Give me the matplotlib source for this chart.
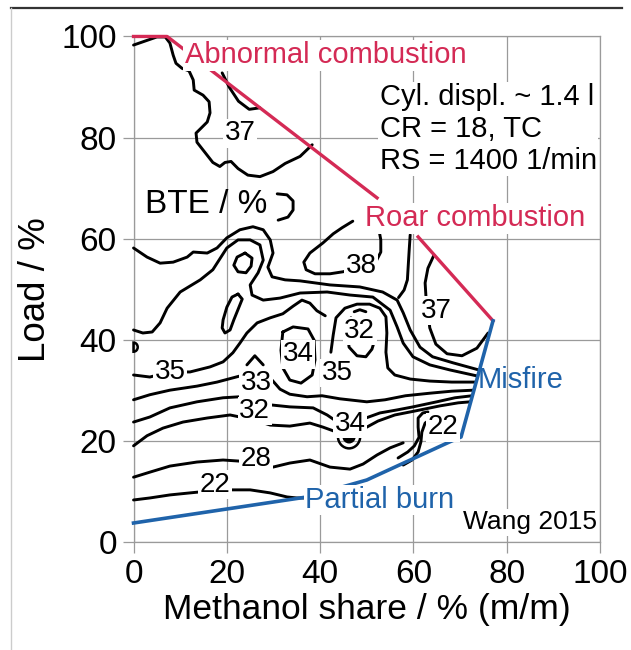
#plot of brake thermal efficiency map over methanol share and load
import matplotlib
matplotlib.use("Agg")
import matplotlib.pyplot as plt
from matplotlib.patches import Wedge
from matplotlib.lines import Line2D

plt.rcParams['font.family'] = ['Liberation Sans', 'DejaVu Sans']

ticks = [0, 20, 40, 60, 80, 100]

# operating limits
abnormal_x = [0, 7.2, 52.2]
abnormal_y = [100, 100, 68.1]
roar_x = [61.0, 77.05]
roar_y = [60.4, 43.8]
limit_x = [0, 37.2, 50.0, 67.8, 70.2, 77.05]
limit_y = [3.85, 9.0, 12.35, 19.9, 20.85, 43.8]

# BTE iso lines (methanol share %, load %)
c37_top_x = [0, 2.5, 5.0, 6.8, 7.8, 8.5, 9.1, 10.4, 11.9, 12.8, 13.0, 14.9, 16.2, 16.4, 15.8,
             14.5, 13.4, 13.6, 15.3, 17.0, 18.5, 19.6, 20.9, 22.4, 24.5, 27.1, 29.9, 32.5, 35.7, 38.3]
c37_top_y = [98.3, 99.1, 99.9, 99.9, 98.7, 96.3, 94.7, 93.7, 93.2, 91.4, 89.4, 88.4, 87.1, 84.9, 83.1,
             81.9, 80.9, 79.1, 77.1, 75.1, 74.3, 75.1, 75.3, 73.9, 72.6, 72.3, 73.3, 74.9, 76.3, 78.6]
c37_lens_x = [19.0, 20.5, 22.5, 24.8, 27.1]
c37_lens_y = [92.8, 90.0, 87.2, 85.6, 85.9]
hook_x = [30.8, 32.9, 34.2, 34.2, 33.1, 31.0]
hook_y = [68.9, 68.7, 67.5, 65.7, 64.3, 63.7]

upper_x = [0, 2.9, 5.7, 8.5, 11.5, 12.8, 15.8, 17.9, 20.0, 22.8, 25.6, 27.8, 29.3, 29.9, 28.8, 29.7,
           32.5, 35.7, 42.1, 48.5, 53.4, 56.5, 57.8, 59.3, 61.4, 64.1, 68.5, 74.0]
upper_y = [58.2, 56.4, 55.2, 55.4, 56.4, 57.4, 57.2, 58.2, 60.2, 61.8, 62.4, 61.8, 59.8, 57.2, 54.4, 52.5,
           51.9, 51.7, 50.9, 50.5, 49.5, 47.9, 45.4, 42.0, 38.6, 36.7, 35.5, 34.1]
second_x = [0, 2.0, 4.0, 5.7, 7.2, 10.0, 14.3, 17.0, 20.0, 22.4, 25.0, 27.1, 27.8, 26.7, 25.0, 25.4,
            27.8, 31.4, 35.7, 41.5, 46.4, 51.3, 55.0, 56.5, 57.8, 59.9, 63.5, 67.8, 73.7]
second_y = [42.0, 41.4, 41.6, 43.4, 46.3, 49.5, 51.9, 53.9, 58.2, 59.8, 59.8, 58.8, 55.8, 53.3, 50.9, 48.9,
            47.9, 48.3, 49.3, 49.5, 48.9, 48.5, 45.9, 42.6, 39.4, 36.7, 35.1, 34.1, 32.9]
drop_x = [59.3, 59.1, 58.9, 58.7, 58.0, 56.8]
drop_y = [60.8, 58.0, 55.0, 51.9, 49.9, 48.4]
arch_x = [42.3, 42.8, 43.4, 45.3, 47.9, 50.6, 52.8, 54.1, 54.3, 54.1, 54.5, 56.0, 59.3, 63.5, 68.2, 73.3]
arch_y = [37.6, 41.0, 44.4, 46.3, 47.1, 47.1, 46.3, 44.6, 41.4, 37.6, 34.5, 33.1, 32.3, 31.9, 31.7, 31.7]
c38_x = [47.0, 44.7, 42.8, 40.6, 37.8, 36.5, 37.0, 38.9, 42.1, 44.9, 48.5, 51.9, 53.0, 53.0, 52.6]
c38_y = [63.5, 62.2, 61.0, 59.2, 57.2, 55.4, 53.9, 53.1, 53.1, 53.5, 54.3, 55.4, 57.4, 59.8, 61.8]
c37_right_x = [64.4, 63.1, 62.5, 62.7, 63.1, 63.5, 64.8, 67.2, 70.4, 73.6, 76.0]
c37_right_y = [56.8, 54.2, 51.3, 48.3, 45.6, 42.4, 39.2, 37.3, 36.9, 38.4, 41.4]
c35_x = [0, 3.5, 7.8, 12.1, 16.4, 19.2, 21.3, 22.8, 24.3, 26.5, 29.3, 32.0, 34.2, 36.1, 37.8, 39.3, 41.1]
c35_y = [33.1, 32.7, 33.7, 33.7, 34.7, 35.7, 37.5, 39.4, 41.4, 43.4, 44.4, 45.2, 46.7, 47.9, 47.3, 45.8, 44.8]
c32_inner_x = [46.6, 45.8, 46.2, 47.9, 49.8, 51.1, 51.5]
c32_inner_y = [44.4, 41.4, 38.6, 36.9, 36.7, 38.2, 39.4]
c32_cap_x = [47.3, 48.5, 49.8]
c32_cap_y = [45.6, 46.0, 45.6]
c34_oval_x = [32.0, 34.2, 37.4, 38.7, 38.9, 38.3, 35.9, 33.5, 32.0, 31.6, 32.0]
c34_oval_y = [41.6, 42.6, 42.2, 40.0, 36.1, 33.1, 31.5, 32.1, 34.5, 38.0, 41.6]
peak_x = [24.3, 26.0, 27.8]
peak_y = [35.1, 36.9, 35.1]
island_x = [22.4, 21.1, 20.0, 19.2, 19.0, 19.6, 20.7, 21.5, 22.6, 23.3, 22.4]
island_y = [49.1, 48.5, 46.5, 44.0, 42.4, 41.4, 42.0, 44.0, 46.5, 48.1, 49.1]
loop_x = [23.9, 22.2, 21.5, 22.4, 24.1, 25.2, 25.4, 23.9]
loop_y = [57.2, 56.4, 54.8, 53.5, 53.3, 54.6, 56.2, 57.2]
c33_x = [0, 3.5, 7.8, 13.6, 17.9, 22.8, 29.7, 31.4, 33.5, 37.2, 40.4, 44.2, 50.0, 53.9, 58.3, 63.5, 68.2, 72.9]
c33_y = [28.2, 29.2, 30.1, 30.9, 31.7, 32.9, 32.1, 30.3, 29.3, 28.8, 29.0, 28.4, 27.8, 28.2, 29.0, 29.5, 29.9, 30.1]
mid_x = [0, 3.5, 7.8, 13.6, 19.2, 22.8, 26.3, 29.3, 33.5, 38.5, 41.5, 43.4, 46.4, 49.8, 52.8, 56.5, 59.9, 65.0, 68.9, 72.6]
mid_y = [23.8, 24.8, 26.6, 27.8, 28.6, 28.8, 28.4, 27.2, 26.8, 26.6, 25.2, 24.0, 23.4, 24.6, 25.6, 26.2, 26.8, 27.8, 28.6, 29.0]
c32_x = [0, 2.9, 6.3, 10.6, 15.8, 20.7, 22.8, 26.0, 29.3, 33.5, 37.8, 40.6, 43.6, 46.4, 49.6, 52.4, 56.0, 60.4, 65.7, 69.6, 72.2]
c32_y = [19.1, 21.1, 22.6, 23.8, 24.6, 25.2, 24.8, 24.2, 23.2, 23.0, 23.6, 22.8, 21.8, 21.8, 22.6, 24.0, 25.2, 26.0, 27.0, 27.6, 27.8]
c28_x = [0, 3.5, 7.8, 13.6, 19.2, 22.4, 26.3, 29.9, 33.5, 37.8, 42.1, 46.4, 49.2, 52.2, 55.0, 57.8]
c28_y = [12.9, 13.9, 15.1, 15.9, 16.3, 16.1, 15.9, 14.9, 15.7, 16.3, 14.9, 14.5, 15.5, 17.3, 18.7, 19.7]
brace1_x = [56.7, 58.8, 60.2, 61.2, 61.0, 61.0, 62.0, 63.1]
brace1_y = [16.7, 17.9, 19.1, 20.8, 22.8, 24.6, 25.6, 25.8]
brace2_x = [57.8, 59.7, 61.0, 61.6, 61.8, 62.5, 63.7]
brace2_y = [15.3, 16.3, 17.9, 19.9, 21.8, 23.6, 24.4]
c22_x = [0, 3.5, 7.8, 12.1, 14.3, 17.5, 21.3, 25.0, 29.3, 32.9, 35.0, 36.8]
c22_y = [8.4, 8.8, 9.4, 9.8, 10.0, 10.4, 10.4, 10.4, 9.8, 9.0, 8.8, 8.8]

iso_lines = [(c37_top_x, c37_top_y), (c37_lens_x, c37_lens_y), (hook_x, hook_y),
             (upper_x, upper_y), (second_x, second_y), (drop_x, drop_y), (arch_x, arch_y),
             (c38_x, c38_y), (c37_right_x, c37_right_y), (c35_x, c35_y),
             (c32_inner_x, c32_inner_y), (c32_cap_x, c32_cap_y), (c34_oval_x, c34_oval_y),
             (peak_x, peak_y), (island_x, island_y), (loop_x, loop_y), (c33_x, c33_y),
             (mid_x, mid_y), (c32_x, c32_y), (c28_x, c28_y), (brace1_x, brace1_y),
             (brace2_x, brace2_y), (c22_x, c22_y)]

# iso line labels
label_text = ['37', '38', '37', '32', '34', '35', '35', '33', '32', '34', '28', '22', '22']
label_x = [22.8, 48.8, 65.0, 48.5, 35.3, 7.8, 43.6, 26.3, 26.0, 46.4, 26.3, 17.5, 66.3]
label_y = [80.9, 54.6, 45.8, 41.8, 37.2, 33.7, 33.5, 31.5, 26.0, 23.4, 16.5, 11.4, 22.8]

red = '#d42a55'
blue = '#1f63aa'
grey = '#9a9a9a'
white_box = dict(facecolor='white', edgecolor='none', pad=1.0)

fig = plt.figure(figsize=(6.31, 6.50), dpi=100)
ax = fig.add_axes([0.2116, 0.1654, 0.7394, 0.7785])

# frame of the figure
fig.add_artist(Line2D([0.0174, 0.985], [0.988, 0.988], color='#333333', lw=1.6))
fig.add_artist(Line2D([0.0174, 0.0174], [0.0, 0.988], color='#cccccc', lw=1.0))

for xs, ys in iso_lines:
    ax.plot(xs, ys, color='black', lw=2.1, solid_capstyle='round', zorder=3, clip_on=False)

# small pockets of the map
ax.add_patch(Wedge((46.2, 21.0), 2.4, 180, 360, fill=False, lw=1.8, color='black', zorder=3))
ax.add_patch(Wedge((46.2, 21.0), 1.3, 180, 360, color='black', zorder=3))
ax.add_patch(Wedge((0, 38.6), 0.9, -90, 90, fill=False, lw=1.8, color='black', zorder=3, clip_on=False))

ax.plot(abnormal_x, abnormal_y, color=red, lw=2.4, zorder=4, clip_on=False)
ax.plot(roar_x, roar_y, color=red, lw=2.4, zorder=4, clip_on=False)
ax.plot(limit_x, limit_y, color=blue, lw=2.6, zorder=4, clip_on=False)

for t, x, y in zip(label_text, label_x, label_y):
    ax.text(x, y, t, fontsize=20, ha='center', va='center', bbox=white_box, zorder=5)

ax.text(11.0, 96.3, 'Abnormal combustion', color=red, fontsize=21, va='center', bbox=white_box, zorder=5)
ax.text(49.6, 64.1, 'Roar combustion', color=red, fontsize=21, va='center', bbox=white_box, zorder=5)
ax.text(73.8, 32.1, 'Misfire', color=blue, fontsize=21, va='center', zorder=5)
ax.text(36.8, 8.4, 'Partial burn', color=blue, fontsize=21, va='center', bbox=white_box, zorder=5)
ax.text(52.8, 81.7, 'Cyl. displ. ~ 1.4 l\nCR = 18, TC\nRS = 1400 1/min', fontsize=21,
        va='center', linespacing=1.17, bbox=white_box, zorder=5)
ax.text(2.5, 66.7, 'BTE / %', fontsize=24, va='center', zorder=5)
ax.text(99.4, 4.0, 'Wang 2015', fontsize=19, ha='right', va='center', bbox=white_box, zorder=5)

ax.set_xlim(0, 100)
ax.set_ylim(0, 100)
ax.set_xticks(ticks)
ax.set_yticks(ticks)
ax.grid(True, color=grey, lw=0.9)
ax.set_axisbelow(True)
for s in ax.spines.values():
    s.set_color(grey)
    s.set_linewidth(0.9)
ax.tick_params(labelsize=24, length=8, width=0.9, color=grey, pad=4)
ax.set_xlabel('Methanol share / % (m/m)', fontsize=25.5, labelpad=2)
ax.set_ylabel('Load / %', fontsize=26.5, labelpad=6)

fig.savefig('out.png', dpi=100)
